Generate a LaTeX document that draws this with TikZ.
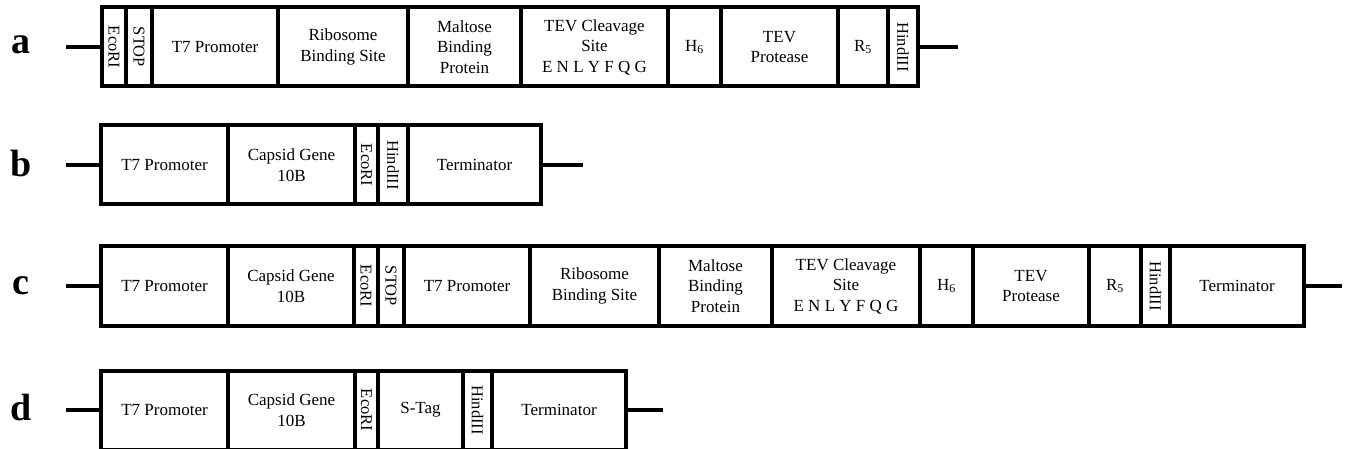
\documentclass[tikz,border=0pt]{standalone}
\usepackage{fontspec}
\setmainfont{Liberation Serif}
\usetikzlibrary{positioning}
\newcommand{\segfont}{\fontsize{17}{20.5}\selectfont}
\newcommand{\vtxt}[1]{\rotatebox{-90}{\fontsize{16.5}{17}\selectfont #1}}
\tikzset{
  seg/.style={draw, rectangle, line width=4pt, minimum height=79pt,
    inner sep=0pt, outer sep=0pt, align=center, font=\segfont},
  tail/.style={line width=4.5pt},
  rowlabel/.style={font=\bfseries\fontsize{38}{38}\selectfont}
}
\begin{document}
\begin{tikzpicture}[x=1pt, y=-1pt]
    \useasboundingbox (0,0) rectangle (1347,449);
    % row a
    \node[rowlabel] (la) at (21,45) {a};
    \node[seg, minimum width=24pt, anchor=west] (a1) at (102,47) {\vtxt{EcoRI}};
    \node[seg, minimum width=26pt, right=0pt of a1] (a2) {\vtxt{STOP}};
    \node[seg, minimum width=126pt, right=0pt of a2] (a3) {T7 Promoter};
    \node[seg, minimum width=130pt, right=0pt of a3] (a4) {Ribosome\\Binding Site};
    \node[seg, minimum width=113pt, right=0pt of a4] (a5) {Maltose\\Binding\\Protein};
    \node[seg, minimum width=147pt, right=0pt of a5] (a6) {TEV Cleavage\\Site\\E N L Y F Q G};
    \node[seg, minimum width=53pt, right=0pt of a6] (a7) {H\textsubscript{6}};
    \node[seg, minimum width=117pt, right=0pt of a7] (a8) {TEV\\Protease};
    \node[seg, minimum width=50pt, right=0pt of a8] (a9) {R\textsubscript{5}};
    \node[seg, minimum width=30pt, right=0pt of a9] (a10) {\vtxt{HindIII}};
    \coordinate (aS) at (66,47);
    \coordinate (aE) at (958,47);
    \draw[tail] (aS) -- (a1.west);
    \draw[tail] (a10.east) -- (aE);
    % row b
    \node[rowlabel] (lb) at (21,164) {b};
    \node[seg, minimum width=127pt, anchor=west] (b1) at (101,165) {T7 Promoter};
    \node[seg, minimum width=127pt, right=0pt of b1] (b2) {Capsid Gene\\10B};
    \node[seg, minimum width=23pt, right=0pt of b2] (b3) {\vtxt{EcoRI}};
    \node[seg, minimum width=30pt, right=0pt of b3] (b4) {\vtxt{HindIII}};
    \node[seg, minimum width=133pt, right=0pt of b4] (b5) {Terminator};
    \coordinate (bS) at (66,165);
    \coordinate (bE) at (583,165);
    \draw[tail] (bS) -- (b1.west);
    \draw[tail] (b5.east) -- (bE);
    % row c
    \node[rowlabel] (lc) at (21,286) {c};
    \node[seg, minimum width=127pt, anchor=west] (c1) at (101,286) {T7 Promoter};
    \node[seg, minimum width=126pt, right=0pt of c1] (c2) {Capsid Gene\\10B};
    \node[seg, minimum width=24pt, right=0pt of c2] (c3) {\vtxt{EcoRI}};
    \node[seg, minimum width=26pt, right=0pt of c3] (c4) {\vtxt{STOP}};
    \node[seg, minimum width=126pt, right=0pt of c4] (c5) {T7 Promoter};
    \node[seg, minimum width=129pt, right=0pt of c5] (c6) {Ribosome\\Binding Site};
    \node[seg, minimum width=113pt, right=0pt of c6] (c7) {Maltose\\Binding\\Protein};
    \node[seg, minimum width=148pt, right=0pt of c7] (c8) {TEV Cleavage\\Site\\E N L Y F Q G};
    \node[seg, minimum width=53pt, right=0pt of c8] (c9) {H\textsubscript{6}};
    \node[seg, minimum width=116pt, right=0pt of c9] (c10) {TEV\\Protease};
    \node[seg, minimum width=52pt, right=0pt of c10] (c11) {R\textsubscript{5}};
    \node[seg, minimum width=29pt, right=0pt of c11] (c12) {\vtxt{HindIII}};
    \node[seg, minimum width=134pt, right=0pt of c12] (c13) {Terminator};
    \coordinate (cS) at (66,286);
    \coordinate (cE) at (1342,286);
    \draw[tail] (cS) -- (c1.west);
    \draw[tail] (c13.east) -- (cE);
    % row d
    \node[rowlabel] (ld) at (21,408) {d};
    \node[seg, minimum width=127pt, anchor=west] (d1) at (101,410) {T7 Promoter};
    \node[seg, minimum width=127pt, right=0pt of d1] (d2) {Capsid Gene\\10B};
    \node[seg, minimum width=23pt, right=0pt of d2] (d3) {\vtxt{EcoRI}};
    \node[seg, minimum width=85pt, right=0pt of d3] (d4) {S-Tag};
    \node[seg, minimum width=29pt, right=0pt of d4] (d5) {\vtxt{HindIII}};
    \node[seg, minimum width=134pt, right=0pt of d5] (d6) {Terminator};
    \coordinate (dS) at (66,410);
    \coordinate (dE) at (663,410);
    \draw[tail] (dS) -- (d1.west);
    \draw[tail] (d6.east) -- (dE);
\end{tikzpicture}
\end{document}
